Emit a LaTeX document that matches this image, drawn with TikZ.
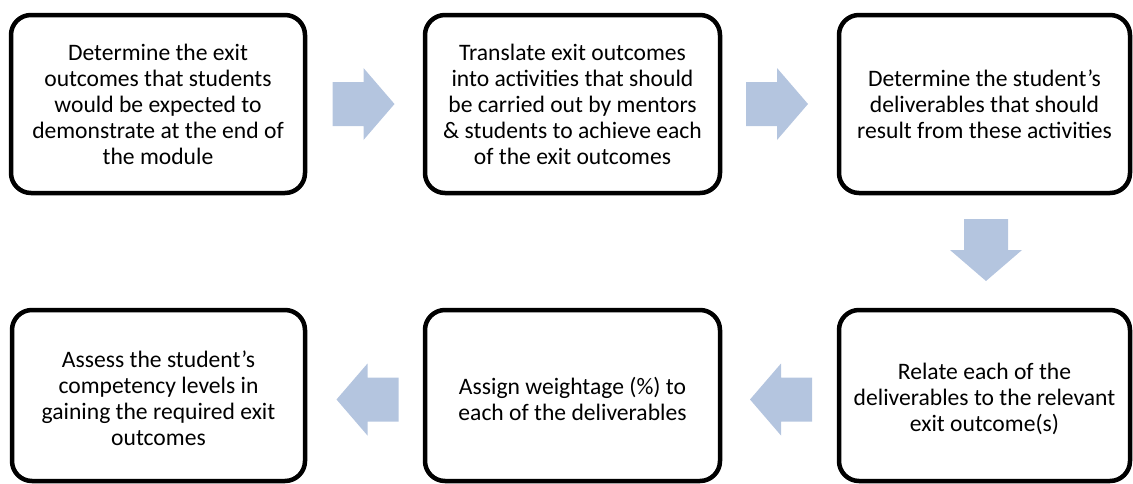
\documentclass[tikz,border=0pt]{standalone}
\usepackage{fontspec}
\setmainfont{Carlito}
\usetikzlibrary{calc}
\definecolor{arrowblue}{RGB}{180,197,223}
\tikzset{
  stepbox/.style={draw=black, line width=4.5pt, rounded corners=20pt, fill=white,
    inner sep=0pt},
  steptext/.style={align=center, inner sep=0pt, text=black,
    font=\fontsize{23.6}{26}\selectfont},
  toprow/.style={minimum height=178pt},
  botrow/.style={minimum height=171pt},
  blockarrow/.pic={
    \fill[arrowblue] (-31,-22) -- (0,-22) -- (0,-36) -- (31,0) -- (0,36) -- (0,22) -- (-31,22) -- cycle;
  }
}
\begin{document}
\begin{tikzpicture}[x=1pt,y=-1pt]
\useasboundingbox (0,0) rectangle (1133,483);
% top row
\node[stepbox, toprow, minimum width=294pt,
  label={[steptext]center:Determine the exit\\outcomes that students\\would be expected to\\demonstrate at the end of\\the module}]
  (s1) at (158,104) {};
\node[stepbox, toprow, minimum width=295pt,
  label={[steptext]center:Translate exit outcomes\\into activities that should\\be carried out by mentors\\\& students to achieve each\\of the exit outcomes}]
  (s2) at (572.5,104) {};
\node[stepbox, toprow, minimum width=291pt,
  label={[steptext]center:Determine the student’s\\deliverables that should\\result from these activities}]
  (s3) at (984.5,104) {};
% bottom row
\node[stepbox, botrow, minimum width=291pt,
  label={[steptext, yshift=-3.5pt]center:Relate each of the\\deliverables to the relevant\\exit outcome(s)}]
  (s4) at (984.5,395.5) {};
\node[stepbox, botrow, minimum width=295pt,
  label={[steptext, yshift=-3.5pt]center:Assign weightage (\%) to\\each of the deliverables}]
  (s5) at (572.5,395.5) {};
\node[stepbox, botrow, minimum width=293pt,
  label={[steptext, yshift=-2.5pt]center:Assess the student’s\\competency levels in\\gaining the required exit\\outcomes}]
  (s6) at (158.5,395.5) {};
% block arrows between the steps
\coordinate (a12) at ($(s1.east)!0.5!(s2.west)+(-1.5,0)$);
\coordinate (a23) at ($(s2.east)!0.5!(s3.west)+(-2.5,0)$);
\coordinate (a34) at ($(s3.south)!0.5!(s4.north)+(1.5,-1.5)$);
\coordinate (a45) at ($(s4.west)!0.5!(s5.east)+(1.5,4)$);
\coordinate (a56) at ($(s5.west)!0.5!(s6.east)+(2.5,4)$);
\pic at (a12) {blockarrow};
\pic at (a23) {blockarrow};
\pic[rotate=-90] at (a34) {blockarrow};
\pic[rotate=180] at (a45) {blockarrow};
\pic[rotate=180] at (a56) {blockarrow};
\end{tikzpicture}
\end{document}
